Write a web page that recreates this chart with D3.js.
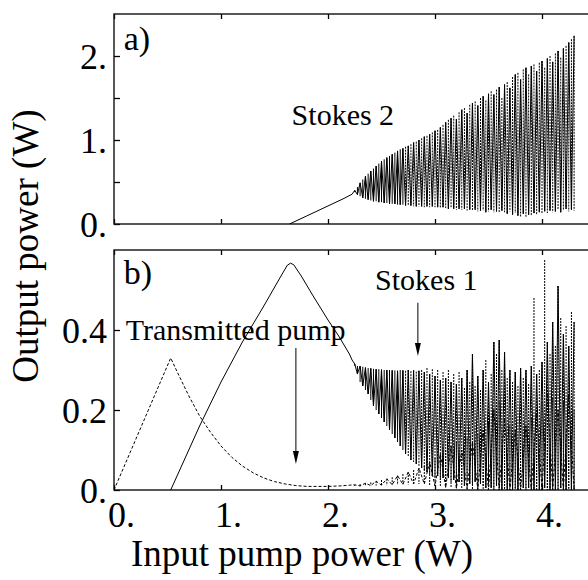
<!DOCTYPE html>
<html>
<head>
<meta charset="utf-8">
<script src="https://cdn.jsdelivr.net/npm/d3@7"></script>
<style>
body { margin: 0; background: #fff; }
svg text { font-family: "Liberation Serif", "Times New Roman", serif; fill: #000; }
</style>
</head>
<body>
<svg id="chart" width="588" height="580"></svg>
<script>
// tick labels
var xTicks = [0, 1, 2, 3, 4];
var xTickLabels = ["0.", "1.", "2.", "3.", "4."];
var aTicks = [0, 0.5, 1, 1.5, 2];
var aTickLabels = ["0.", "", "1.", "", "2."];
var bTicks = [0, 0.2, 0.4];
var bTickLabels = ["0.", "0.2", "0.4"];

// panel a) Stokes 2, smooth rise before it oscillates
var s2SmoothX = [1.64, 1.8, 2.0, 2.15, 2.225];
var s2SmoothY = [0, 0.095, 0.215, 0.305, 0.355];

// Stokes 2 oscillation envelope, every 0.025 W from 2.25 to 4.30
var s2OscStart = 2.25;
var s2Hi = [0.40, 0.44, 0.49, 0.53, 0.57, 0.60, 0.63, 0.66, 0.69, 0.72, 0.75, 0.77,
  0.79, 0.81, 0.83, 0.85, 0.87, 0.89, 0.90, 0.92, 0.93, 0.95, 0.97, 0.98,
  1.00, 1.02, 1.04, 1.05, 1.07, 1.09, 1.11, 1.12, 1.15, 1.18, 1.21, 1.24,
  1.26, 1.29, 1.25, 1.33, 1.36, 1.38, 1.32, 1.42, 1.44, 1.46, 1.41, 1.50,
  1.52, 1.47, 1.55, 1.58, 1.54, 1.60, 1.63, 1.50, 1.66, 1.69, 1.62, 1.75,
  1.78, 1.80, 1.72, 1.84, 1.86, 1.78, 1.88, 1.90, 1.82, 1.92, 1.94, 1.86,
  1.97, 2.00, 1.93, 2.03, 2.06, 1.98, 2.09, 2.12, 2.16, 2.20, 2.24];
var s2Lo = [0.38, 0.35, 0.33, 0.31, 0.30, 0.29, 0.28, 0.27, 0.27, 0.26, 0.26, 0.25,
  0.25, 0.24, 0.24, 0.24, 0.23, 0.23, 0.23, 0.22, 0.22, 0.22, 0.21, 0.21,
  0.21, 0.21, 0.20, 0.21, 0.20, 0.21, 0.20, 0.20, 0.19, 0.20, 0.19, 0.18,
  0.19, 0.18, 0.17, 0.18, 0.17, 0.18, 0.16, 0.17, 0.16, 0.17, 0.15, 0.16,
  0.16, 0.14, 0.15, 0.17, 0.14, 0.15, 0.13, 0.16, 0.14, 0.12, 0.15, 0.11,
  0.13, 0.10, 0.09, 0.12, 0.08, 0.11, 0.10, 0.13, 0.11, 0.14, 0.12, 0.15,
  0.13, 0.16, 0.14, 0.15, 0.17, 0.14, 0.16, 0.18, 0.15, 0.17, 0.16];

// panel b) Stokes 1, smooth part
var s1SmoothX = [0.53, 0.8, 1.0, 1.2, 1.4, 1.55, 1.62, 1.65, 1.68, 1.75, 1.85, 2.0, 2.1, 2.2, 2.225];
var s1SmoothY = [0, 0.16, 0.27, 0.37, 0.46, 0.53, 0.562, 0.567, 0.563, 0.535, 0.49, 0.425, 0.385, 0.34, 0.325];

// Stokes 1 oscillation envelope, every 0.025 W from 2.25 to 4.30
var s1OscStart = 2.25;
var s1Hi = [0.315, 0.310, 0.310, 0.308, 0.306, 0.305, 0.304, 0.303, 0.302, 0.302, 0.301, 0.300,
  0.300, 0.300, 0.299, 0.299, 0.298, 0.300, 0.299, 0.298, 0.300, 0.297, 0.299, 0.296,
  0.298, 0.300, 0.295, 0.305, 0.290, 0.302, 0.285, 0.300, 0.275, 0.295, 0.280, 0.300,
  0.270, 0.290, 0.265, 0.295, 0.280, 0.255, 0.300, 0.270, 0.340, 0.260, 0.285, 0.250,
  0.300, 0.325, 0.270, 0.290, 0.370, 0.340, 0.375, 0.300, 0.345, 0.280, 0.300, 0.270,
  0.295, 0.260, 0.305, 0.280, 0.300, 0.265, 0.310, 0.480, 0.290, 0.300, 0.320, 0.575,
  0.370, 0.340, 0.420, 0.360, 0.510, 0.430, 0.390, 0.410, 0.360, 0.445, 0.420];
var s1Lo = [0.310, 0.290, 0.270, 0.260, 0.250, 0.240, 0.225, 0.210, 0.200, 0.190, 0.180, 0.170,
  0.160, 0.150, 0.140, 0.130, 0.120, 0.110, 0.100, 0.090, 0.085, 0.075, 0.070, 0.065,
  0.060, 0.055, 0.050, 0.045, 0.040, 0.035, 0.030, 0.035, 0.025, 0.030, 0.020, 0.030,
  0.020, 0.025, 0.015, 0.020, 0.020, 0.010, 0.025, 0.015, 0.010, 0.020, 0.005, 0.015,
  0.010, 0.005, 0.015, 0.005, 0.000, 0.010, 0.005, 0.000, 0.005, 0.000, 0.010, 0.000,
  0.005, 0.000, 0.010, 0.005, 0.000, 0.005, 0.000, 0.000, 0.005, 0.000, 0.000, 0.005,
  0.000, 0.000, 0.005, 0.000, 0.000, 0.005, 0.000, 0.000, 0.005, 0.000, 0.000];

// transmitted pump, smooth part
var pumpSmoothX = [0, 0.53, 0.6, 0.7, 0.8, 0.9, 1.0, 1.1, 1.2, 1.3, 1.4, 1.5, 1.6, 1.7, 1.8, 1.9, 2.0, 2.1, 2.2];
var pumpSmoothY = [0, 0.33, 0.29, 0.235, 0.185, 0.145, 0.11, 0.082, 0.06, 0.043, 0.03, 0.021, 0.015, 0.011, 0.009, 0.009, 0.009, 0.010, 0.012];

// transmitted pump oscillation envelope, every 0.05 W from 2.25 to 4.30
var pumpOscStart = 2.25;
var pumpHi = [0.013, 0.015, 0.017, 0.019, 0.022, 0.025, 0.028, 0.032, 0.036, 0.040, 0.045, 0.050,
  0.055, 0.060, 0.070, 0.080, 0.090, 0.100, 0.110, 0.120, 0.100, 0.130, 0.120, 0.140,
  0.150, 0.170, 0.200, 0.220, 0.180, 0.160, 0.150, 0.170, 0.160, 0.180, 0.200, 0.220,
  0.250, 0.230, 0.200, 0.220, 0.240, 0.200];
var pumpLo = [0.010, 0.010, 0.010, 0.011, 0.011, 0.012, 0.012, 0.013, 0.013, 0.014, 0.014, 0.015,
  0.015, 0.015, 0.012, 0.010, 0.008, 0.006, 0.005, 0.004, 0.003, 0.002, 0.002, 0.001,
  0, 0, 0, 0, 0, 0, 0, 0, 0, 0, 0, 0, 0, 0, 0, 0, 0, 0];

var svg = d3.select("#chart");
var x = d3.scaleLinear().domain([0, 4.5]).range([114, 595.5]);
var yA = d3.scaleLinear().domain([0, 2.5]).range([224, 14]);
var yB = d3.scaleLinear().domain([0, 0.6]).range([490, 250]);

// smooth points followed by a zigzag between the upper and lower envelope
function tracePoints(sx, sy, start, step, hi, lo) {
	var pts = sx.map(function(v, i) { return [v, sy[i]]; });
	hi.forEach(function(h, i) {
		pts.push([start + i * step, i % 2 === 0 ? h : lo[i]]);
	});
	return pts;
}

// one vertical stroke per envelope sample
function strokes(g, y, start, step, hi, lo, dash) {
	g.append("g").selectAll("line")
		.data(hi)
		.join("line")
		.attr("x1", function(d, i) { return x(start + i * step); })
		.attr("x2", function(d, i) { return x(start + i * step); })
		.attr("y1", function(d) { return y(d); })
		.attr("y2", function(d, i) { return y(lo[i]); })
		.attr("stroke", "#000")
		.attr("stroke-width", 1)
		.attr("stroke-dasharray", function(d, i) { return start + i * step > dash ? "2,1" : null; });
}

function panel(name, y, ticks, labels, showX) {
	var g = svg.append("g");
	var x0 = x.range()[0], x1 = x.range()[1], y0 = y.range()[0], y1 = y.range()[1];

	g.append("clipPath").attr("id", "clip-" + name)
		.append("rect").attr("x", x0).attr("y", y1).attr("width", x1 - x0).attr("height", y0 - y1);

	var yAxis = g.append("g").attr("transform", "translate(" + x0 + ",0)")
		.call(d3.axisLeft(y).tickValues(ticks).tickSize(-6).tickPadding(7)
			.tickFormat(function(d, i) { return labels[i]; }));
	yAxis.select(".domain").remove();
	yAxis.attr("font-size", null).attr("font-family", null);
	yAxis.selectAll("text").attr("font-size", 36).attr("dy", "0.34em");

	var bottom = g.append("g").attr("transform", "translate(0," + y0 + ")")
		.call(d3.axisBottom(x).tickValues(xTicks).tickSize(-5)
			.tickFormat(function(d, i) { return showX ? xTickLabels[i] : ""; }));
	bottom.select(".domain").remove();
	bottom.attr("font-size", null).attr("font-family", null);
	bottom.selectAll("text").attr("font-size", 36).attr("y", 37).attr("dy", null).attr("dx", 7);

	var top = g.append("g").attr("transform", "translate(0," + y1 + ")")
		.call(d3.axisTop(x).tickValues(xTicks).tickSize(-5).tickFormat(""));
	top.select(".domain").remove();

	g.selectAll(".tick line").attr("stroke", "#000").attr("stroke-width", 1.3);

	g.append("rect").attr("x", x0).attr("y", y1).attr("width", x1 - x0).attr("height", y0 - y1)
		.attr("fill", "none").attr("stroke", "#111").attr("stroke-width", 1.4);

	return g.append("g").attr("clip-path", "url(#clip-" + name + ")");
}

var plotA = panel("a", yA, aTicks, aTickLabels, false);
var plotB = panel("b", yB, bTicks, bTickLabels, true);

var lineA = d3.line().x(function(d) { return x(d[0]); }).y(function(d) { return yA(d[1]); });
var lineB = d3.line().x(function(d) { return x(d[0]); }).y(function(d) { return yB(d[1]); });

strokes(plotA, yA, s2OscStart, 0.025, s2Hi, s2Lo, 2.72);
plotA.append("path")
	.attr("d", lineA(tracePoints(s2SmoothX, s2SmoothY, s2OscStart, 0.025, s2Hi, s2Lo)))
	.attr("fill", "none").attr("stroke", "#000").attr("stroke-width", 1);

strokes(plotB, yB, pumpOscStart, 0.05, pumpHi, pumpLo, 2.25);
plotB.append("path")
	.attr("d", lineB(tracePoints(pumpSmoothX, pumpSmoothY, pumpOscStart, 0.05, pumpHi, pumpLo)))
	.attr("fill", "none").attr("stroke", "#000").attr("stroke-width", 1)
	.attr("stroke-dasharray", "3,2");

strokes(plotB, yB, s1OscStart, 0.025, s1Hi, s1Lo, 2.72);
plotB.append("path")
	.attr("d", lineB(tracePoints(s1SmoothX, s1SmoothY, s1OscStart, 0.025, s1Hi, s1Lo)))
	.attr("fill", "none").attr("stroke", "#000").attr("stroke-width", 1);

// labels inside panels
svg.append("text").attr("x", x(0.09)).attr("y", yA(2.075)).attr("font-size", 34).text("a)");
svg.append("text").attr("x", x(0.09)).attr("y", yB(0.515)).attr("font-size", 34).text("b)");
svg.append("text").attr("x", x(1.66)).attr("y", yA(1.18)).attr("font-size", 30).text("Stokes 2");
svg.append("text").attr("x", x(0.11)).attr("y", yB(0.375)).attr("font-size", 30).text("Transmitted pump");
svg.append("text").attr("x", x(2.44)).attr("y", yB(0.5)).attr("font-size", 30).text("Stokes 1");

// arrows
function arrow(px, from, to) {
	var xx = x(px), ya = yB(from), yb = yB(to);
	svg.append("line").attr("x1", xx).attr("x2", xx).attr("y1", ya).attr("y2", yb - 10)
		.attr("stroke", "#000").attr("stroke-width", 1);
	svg.append("path")
		.attr("d", "M" + (xx - 3) + "," + (yb - 13) + "L" + xx + "," + yb + "L" + (xx + 3) + "," + (yb - 13) + "Z")
		.attr("fill", "#000");
}
arrow(2.84, 0.468, 0.335);
arrow(1.70, 0.355, 0.065);

// axis titles
svg.append("text").attr("x", 302).attr("y", 566).attr("text-anchor", "middle")
	.attr("font-size", 37).text("Input pump power (W)");
svg.append("text").attr("transform", "translate(38,246) rotate(-90)").attr("text-anchor", "middle")
	.attr("font-size", 37).text("Output power (W)");
</script>
</body>
</html>
